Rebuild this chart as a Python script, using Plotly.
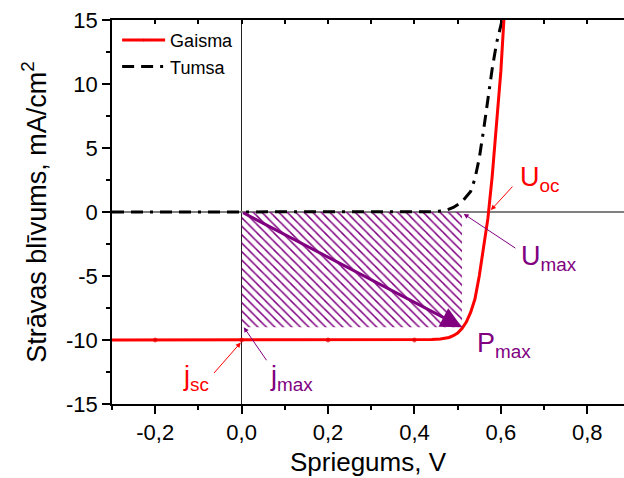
import plotly.graph_objects as go

# ---- data ----
V_light = [-0.30, -0.20, 0.00, 0.20, 0.40, 0.44, 0.46, 0.48, 0.49, 0.50, 0.51, 0.52,
           0.53, 0.54, 0.55, 0.56, 0.57, 0.58, 0.59, 0.60, 0.607]
j_light = [-10.0, -10.0, -10.0, -10.0, -10.0, -9.97, -9.92, -9.80, -9.66, -9.45, -9.10, -8.60,
           -7.85, -6.8, -5.0, -2.9, -0.5, 2.8, 6.6, 11.0, 15.0]
marker_light = [0, 4, 4, 4, 4, 0, 0, 0, 0, 0, 0, 0, 0, 0, 0, 0, 0, 0, 0, 0, 0]

V_dark = [-0.30, -0.20, -0.10, 0.00, 0.10, 0.20, 0.30, 0.40, 0.44, 0.47, 0.49, 0.51,
          0.53, 0.54, 0.55, 0.56, 0.57, 0.58, 0.59, 0.60, 0.603]
j_dark = [0.0, 0.0, 0.0, 0.0, 0.0, 0.0, 0.0, 0.0, 0.02, 0.1, 0.35, 0.8,
          1.6, 2.6, 4.2, 6.4, 8.9, 11.2, 13.2, 14.7, 15.0]

U_max = 0.51
j_max = -9.0

x_tickvals = [-0.2, 0.0, 0.2, 0.4, 0.6, 0.8]
x_ticktext = ["-0,2", "0,0", "0,2", "0,4", "0,6", "0,8"]
y_tickvals = [-15, -10, -5, 0, 5, 10, 15]
y_ticktext = ["-15", "-10", "-5", "0", "5", "10", "15"]

RED = "#ff0000"
PURPLE = "#800080"
FONT = "Arial, Liberation Sans, sans-serif"

fig = go.Figure()

# hatched power rectangle
fig.add_trace(go.Scatter(
    x=[0, U_max, U_max, 0, 0], y=[0, 0, j_max, j_max, 0],
    mode="lines", line=dict(width=0), fill="toself",
    fillcolor="rgba(0,0,0,0)",
    fillpattern=dict(shape="\\", fgcolor=PURPLE, bgcolor="rgba(255,255,255,0)",
                     size=6, solidity=0.25, fgopacity=1),
    showlegend=False, hoverinfo="skip"))

fig.add_trace(go.Scatter(
    x=V_dark, y=j_dark, mode="lines", name="Tumsa",
    line=dict(color="black", width=3, dash="12px,7px,12px,7px,3px,7px"), legendrank=2))

fig.add_trace(go.Scatter(
    x=V_light, y=j_light, mode="lines+markers", name="Gaisma",
    line=dict(color=RED, width=3),
    marker=dict(size=marker_light, color="#cc0000"), legendrank=1))

# dummy trace for top axis
fig.add_trace(go.Scatter(x=[None], y=[None], xaxis="x2", showlegend=False, hoverinfo="skip"))

ann = []

def arrow(xh, yh, xt, yt, color, width=1, head=2, size=1.0):
    ann.append(dict(x=xh, y=yh, ax=xt, ay=yt, xref="x", yref="y", axref="x", ayref="y",
                    text="", showarrow=True, arrowhead=head, arrowsize=size,
                    arrowwidth=width, arrowcolor=color, standoff=0, startstandoff=0))

def label(x, y, txt, color, xanchor="left"):
    ann.append(dict(x=x, y=y, xref="x", yref="y", text=txt, showarrow=False,
                    xanchor=xanchor, yanchor="middle",
                    font=dict(family=FONT, size=27, color=color)))

# thick arrow to Pmax
arrow(U_max, j_max, 0, 0, PURPLE, width=3, head=2, size=1.4)
# Uoc
arrow(0.577, 0.15, 0.630, 2.1, RED)
label(0.640, 2.6, "U<sub>oc</sub>", RED)
# Umax
arrow(0.514, -0.15, 0.637, -2.9, PURPLE)
label(0.642, -3.6, "U<sub>max</sub>", PURPLE)
# Pmax
label(0.540, -10.4, "P<sub>max</sub>", PURPLE)
# jsc
arrow(-0.002, -10.2, -0.067, -12.7, RED)
label(-0.070, -13.0, "j<sub>sc</sub>", RED, xanchor="right")
# jmax
arrow(0.005, -9.0, 0.060, -11.7, PURPLE)
label(0.062, -13.0, "j<sub>max</sub>", PURPLE)

x_range = [-0.3, 0.885]

fig.update_layout(
    width=624, height=478,
    margin=dict(l=112, r=0, t=20, b=74),
    paper_bgcolor="white", plot_bgcolor="white",
    font=dict(family=FONT, color="black"),
    showlegend=True,
    legend=dict(x=0.01, y=0.995, xanchor="left", yanchor="top",
                bgcolor="rgba(255,255,255,0)", font=dict(size=18, family=FONT),
                itemwidth=43, tracegroupgap=0),
    annotations=ann,
    xaxis=dict(
        range=x_range, tickmode="array", tickvals=x_tickvals, ticktext=x_ticktext,
        ticks="outside", ticklen=8, tickwidth=1.5, tickcolor="black",
        minor=dict(tickmode="linear", tick0=-0.3, dtick=0.1, ticks="outside",
                   ticklen=4, tickwidth=1.5, tickcolor="black"),
        showline=True, linecolor="black", linewidth=1.5,
        showgrid=False, zeroline=True, zerolinecolor="#222", zerolinewidth=1,
        tickfont=dict(size=22, family=FONT),
        title=dict(text="Spriegums, V", font=dict(size=26, family=FONT), standoff=9),
    ),
    xaxis2=dict(
        overlaying="x", side="top", anchor="y", range=x_range,
        tickmode="linear", tick0=-0.3, dtick=0.1, ticks="inside", ticklen=4,
        tickwidth=1.5, tickcolor="black", showticklabels=False,
        showline=True, linecolor="black", linewidth=1.5,
        showgrid=False, zeroline=False,
    ),
    yaxis=dict(
        range=[-15, 15], tickmode="array", tickvals=y_tickvals, ticktext=y_ticktext,
        ticks="outside", ticklen=8, tickwidth=1.5, tickcolor="black",
        minor=dict(tickmode="linear", tick0=-15, dtick=2.5, ticks="outside",
                   ticklen=4, tickwidth=1.5, tickcolor="black"),
        showline=True, linecolor="black", linewidth=1.5,
        showgrid=False, zeroline=True, zerolinecolor="#808080", zerolinewidth=2,
        tickfont=dict(size=22, family=FONT),
        title=dict(text="Strāvas blīvums, mA/cm<sup>2</sup>", font=dict(size=27, family=FONT),
                   standoff=12),
    ),
)

fig.write_html("out.html")
